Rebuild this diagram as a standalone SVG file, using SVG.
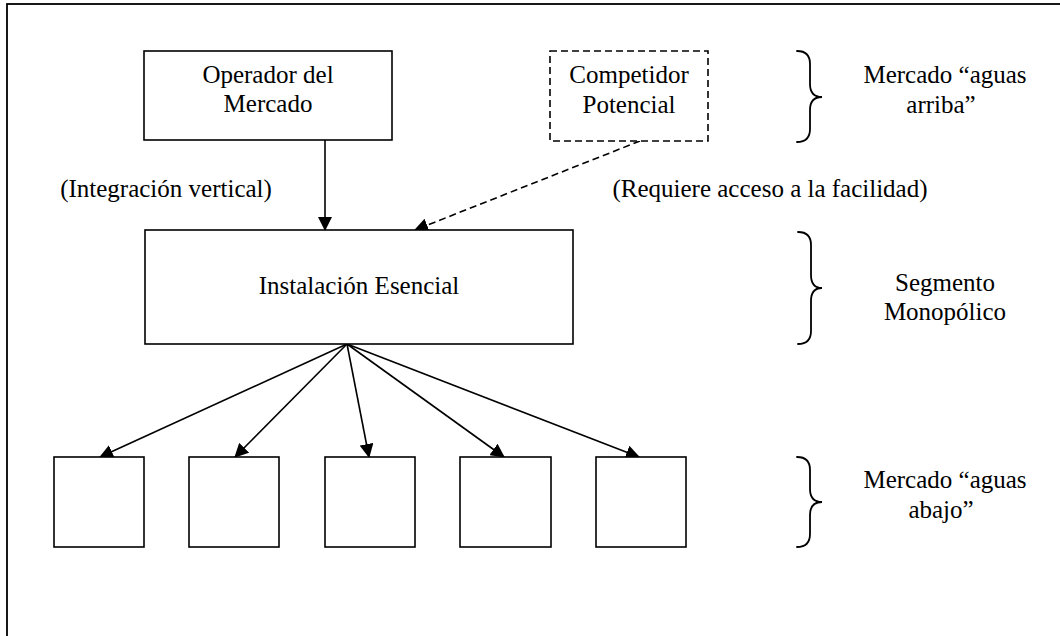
<svg xmlns="http://www.w3.org/2000/svg" width="1060" height="636" viewBox="0 0 1060 636">
  <style>
    .box { fill: #fff; stroke: #000; stroke-width: 1.6; }
    .dashed { stroke-dasharray: 7 4; }
    .edge { fill: none; stroke: #000; stroke-width: 1.6; }
    .brace { fill: none; stroke: #000; stroke-width: 1.8; stroke-linecap: round; }
    text { font-family: "Liberation Serif", "Times New Roman", serif; font-size: 25px; fill: #000; text-anchor: middle; }
  </style>
  <defs>
    <marker id="arrow" markerUnits="userSpaceOnUse" viewBox="0 0 14 14" markerWidth="14" markerHeight="14" refX="13" refY="7" orient="auto">
      <path d="M0,0 L14,7 L0,14 z" fill="#000"/>
    </marker>
  </defs>

  <!-- outer frame -->
  <rect x="7" y="4" width="1100" height="700" fill="#fff" stroke="#000" stroke-width="1.8"/>

  <!-- connectors -->
  <g id="connectors">
    <line class="edge" x1="325" y1="140" x2="325" y2="230" marker-end="url(#arrow)"/>
    <line class="edge dashed" x1="640" y1="141" x2="415" y2="230" marker-end="url(#arrow)"/>
    <line class="edge" x1="347" y1="344" x2="100" y2="457" marker-end="url(#arrow)"/>
    <line class="edge" x1="347" y1="344" x2="235" y2="457" marker-end="url(#arrow)"/>
    <line class="edge" x1="347" y1="344" x2="369" y2="457" marker-end="url(#arrow)"/>
    <line class="edge" x1="347" y1="344" x2="504" y2="457" marker-end="url(#arrow)"/>
    <line class="edge" x1="347" y1="344" x2="639" y2="457" marker-end="url(#arrow)"/>
  </g>

  <g id="operador">
    <rect class="box" x="144" y="51" width="248" height="89"/>
    <text x="268" y="83">Operador del</text>
    <text x="268" y="112">Mercado</text>
  </g>

  <g id="competidor">
    <rect class="box dashed" x="550" y="51" width="158" height="90"/>
    <text x="629" y="83">Competidor</text>
    <text x="629" y="113">Potencial</text>
  </g>

  <g id="instalacion">
    <rect class="box" x="145" y="230" width="428" height="114"/>
    <text x="359" y="294">Instalación Esencial</text>
  </g>

  <g id="downstream">
    <rect class="box" x="54" y="457" width="90" height="90"/>
    <rect class="box" x="189" y="457" width="90" height="90"/>
    <rect class="box" x="325" y="457" width="90" height="90"/>
    <rect class="box" x="460" y="457" width="91" height="90"/>
    <rect class="box" x="596" y="457" width="90" height="90"/>
  </g>

  <g id="labels">
    <text x="166" y="197">(Integración vertical)</text>
    <text x="770" y="197">(Requiere acceso a la facilidad)</text>
  </g>

  <g id="brace-upstream">
    <path class="brace" d="M797,51 Q810,51 810,64 L810,84 Q810,97 822,97 Q810,97 810,110 L810,129 Q810,142 797,142"/>
    <text x="945" y="83">Mercado “aguas</text>
    <text x="941" y="113">arriba”</text>
  </g>

  <g id="brace-monopoly">
    <path class="brace" d="M798,232 Q811,232 811,245 L811,275 Q811,288 822,288 Q811,288 811,301 L811,331 Q811,344 798,344"/>
    <text x="945" y="291">Segmento</text>
    <text x="945" y="320">Monopólico</text>
  </g>

  <g id="brace-downstream">
    <path class="brace" d="M797,457 Q810,457 810,470 L810,489 Q810,502 822,502 Q810,502 810,515 L810,534 Q810,547 797,547"/>
    <text x="945" y="488">Mercado “aguas</text>
    <text x="941" y="518">abajo”</text>
  </g>
</svg>
